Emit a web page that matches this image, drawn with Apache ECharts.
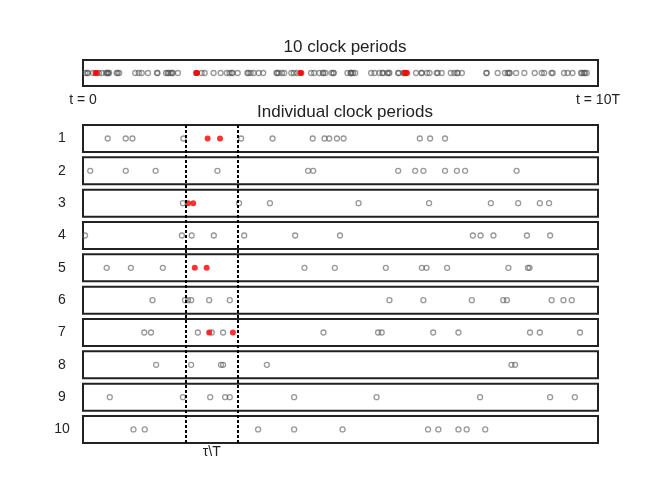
<!DOCTYPE html>
<html>
<head>
<meta charset="utf-8">
<script src="https://cdn.jsdelivr.net/npm/echarts@6/dist/echarts.min.js"></script>
<style>
  html, body { margin: 0; padding: 0; background: #fff; }
  #main { width: 664px; height: 500px; }
</style>
</head>
<body>
<div id="main"></div>
<script>
// event times inside each clock period, as a fraction of T
const grayTimes = [
  [0.048, 0.083, 0.096, 0.195, 0.307, 0.368, 0.446, 0.469, 0.478, 0.493, 0.506, 0.654, 0.674, 0.703],
  [0.014, 0.083, 0.141, 0.261, 0.437, 0.447, 0.612, 0.645, 0.661, 0.703, 0.726, 0.742, 0.842],
  [0.194, 0.303, 0.363, 0.535, 0.672, 0.792, 0.845, 0.887, 0.905],
  [0.004, 0.192, 0.211, 0.254, 0.313, 0.412, 0.499, 0.757, 0.772, 0.797, 0.862, 0.907],
  [0.046, 0.093, 0.155, 0.430, 0.489, 0.588, 0.658, 0.667, 0.707, 0.826, 0.864, 0.867],
  [0.135, 0.198, 0.204, 0.210, 0.245, 0.285, 0.595, 0.661, 0.755, 0.816, 0.823, 0.910, 0.933, 0.949],
  [0.119, 0.132, 0.223, 0.250, 0.272, 0.467, 0.573, 0.580, 0.680, 0.729, 0.868, 0.887, 0.965],
  [0.142, 0.210, 0.268, 0.272, 0.357, 0.832, 0.839],
  [0.052, 0.194, 0.247, 0.276, 0.285, 0.410, 0.570, 0.771, 0.907, 0.955],
  [0.098, 0.120, 0.340, 0.410, 0.504, 0.670, 0.690, 0.729, 0.745, 0.781]
];
// events that fall in the window (red)
const redTimes = [
  [0.242, 0.266], [], [0.204, 0.214], [], [0.217, 0.240],
  [], [0.245, 0.291], [], [], []
];
const rowLabels = ['1', '2', '3', '4', '5', '6', '7', '8', '9', '10'];
const windowEdges = [0.2, 0.3];
const stripLabels = ['t = 0', 't = 10T'];
const windowLabel = 'τ\\T';

const chart = echarts.init(document.getElementById('main'));

const FONT = 'Liberation Sans';
const GRAY = 'rgba(85,85,85,0.75)';
const LEFT = 83, WIDTH = 515;
const ROW_TOP = 125, ROW_STEP = 32.33, ROW_H = 27;

const grids = [], xAxes = [], yAxes = [], series = [];

const grayStyle = { color: 'rgba(0,0,0,0)', borderColor: GRAY, borderWidth: 1.3 };
const redStyle = { color: '#ff0000' };

// top strip: all 10 periods
grids.push({ left: LEFT, width: WIDTH, top: 60, height: 26, show: true,
  borderColor: '#222', borderWidth: 2, backgroundColor: 'transparent' });
xAxes.push({ gridIndex: 0, type: 'value', min: 0, max: 10, interval: 10,
  axisLine: { show: false }, axisTick: { show: false }, splitLine: { show: false },
  axisLabel: { margin: 7, fontFamily: FONT, fontSize: 14, color: '#222',
    formatter: v => v === 0 ? stripLabels[0] : (v === 10 ? stripLabels[1] : '') } });
yAxes.push({ gridIndex: 0, type: 'value', min: 0, max: 1, show: false });

const topGray = [], topRed = [];
grayTimes.forEach((arr, k) => arr.forEach(t => topGray.push([k + t, 0.5])));
redTimes.forEach((arr, k) => arr.forEach(t => topRed.push([k + t, 0.5])));
series.push({ type: 'scatter', xAxisIndex: 0, yAxisIndex: 0, data: topGray,
  symbolSize: 5, itemStyle: grayStyle, silent: true });
series.push({ type: 'scatter', xAxisIndex: 0, yAxisIndex: 0, data: topRed,
  symbolSize: 6, itemStyle: redStyle, silent: true, z: 3 });

// individual periods
rowLabels.forEach((lab, i) => {
  const gi = grids.length;
  grids.push({ left: LEFT, width: WIDTH, top: ROW_TOP + i * ROW_STEP, height: ROW_H, show: true,
    borderColor: '#222', borderWidth: 2, backgroundColor: 'transparent' });
  xAxes.push({ gridIndex: gi, type: 'value', min: 0, max: 1, show: false });
  yAxes.push({ gridIndex: gi, type: 'value', min: 0, max: 1, interval: 0.5,
    axisLine: { show: false }, axisTick: { show: false }, splitLine: { show: false },
    axisLabel: { margin: 21, align: 'center', fontFamily: FONT, fontSize: 14, color: '#222',
      formatter: v => v === 0.5 ? lab : '' } });
  series.push({ type: 'scatter', xAxisIndex: gi, yAxisIndex: gi,
    data: grayTimes[i].map(t => [t, 0.5]), symbolSize: 5, itemStyle: grayStyle, silent: true });
  series.push({ type: 'scatter', xAxisIndex: gi, yAxisIndex: gi,
    data: redTimes[i].map(t => [t, 0.5]), symbolSize: 6, itemStyle: redStyle, silent: true, z: 3 });
});

// overlay for window lines
const oi = grids.length;
grids.push({ left: LEFT, width: WIDTH, top: ROW_TOP, height: 9 * ROW_STEP + ROW_H });
xAxes.push({ gridIndex: oi, type: 'value', min: 0, max: 1, interval: 0.25,
  axisLine: { show: false }, axisTick: { show: false }, splitLine: { show: false },
  axisLabel: { margin: 2, fontFamily: FONT, fontSize: 14, color: '#222',
    formatter: v => v === 0.25 ? windowLabel : '' } });
yAxes.push({ gridIndex: oi, type: 'value', min: 0, max: 1, show: false });
series.push({ type: 'scatter', xAxisIndex: oi, yAxisIndex: oi, data: [], z: 4,
  markLine: { silent: true, symbol: 'none', animation: false, label: { show: false },
    lineStyle: { color: '#000', width: 2, type: [3, 2] },
    data: windowEdges.map(x => ({ xAxis: x })) } });

chart.setOption({
  animation: false,
  backgroundColor: '#fff',
  title: [
    { text: '10 clock periods', left: 340, top: 34, textAlign: 'center',
      textStyle: { fontFamily: FONT, fontSize: 17, fontWeight: 'normal', color: '#222' } },
    { text: 'Individual clock periods', left: 340, top: 99, textAlign: 'center',
      textStyle: { fontFamily: FONT, fontSize: 17, fontWeight: 'normal', color: '#222' } }
  ],
  grid: grids,
  xAxis: xAxes,
  yAxis: yAxes,
  series: series
});
</script>
</body>
</html>
